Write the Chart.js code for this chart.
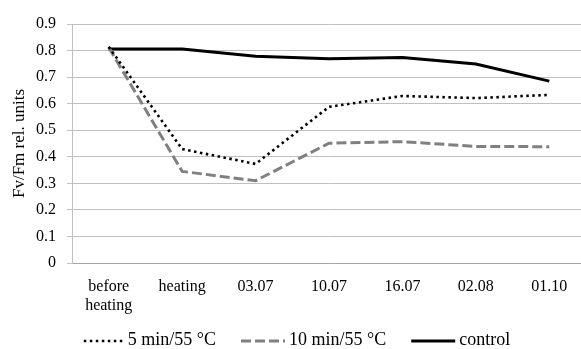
<!DOCTYPE html>
<html>
<head>
<meta charset="utf-8">
<script src="https://cdn.jsdelivr.net/npm/chart.js@4"></script>
<style>
  html, body { margin: 0; padding: 0; background: #fff; overflow: hidden; }
  #wrap { width: 586px; height: 349px; }
</style>
</head>
<body>
<div id="wrap"><canvas id="chart" width="586" height="349"></canvas></div>
<script>
const labels = [["before", "heating"], "heating", "03.07", "10.07", "16.07", "02.08", "01.10"];
const fiveMin = [0.814, 0.429, 0.373, 0.588, 0.629, 0.621, 0.633];
const tenMin = [0.812, 0.345, 0.310, 0.451, 0.457, 0.439, 0.438];
const control = [0.806, 0.806, 0.779, 0.769, 0.774, 0.749, 0.685];
const seriesNames = ["5 min/55 °C", "10 min/55 °C", "control"];
const yTicks = [0, 0.1, 0.2, 0.3, 0.4, 0.5, 0.6, 0.7, 0.8, 0.9];

const FONT = "'Liberation Serif', 'Times New Roman', serif";

const styles = [
  { color: "#000000", width: 2.6, dash: [2.5, 3.5], cap: "butt" },
  { color: "#808080", width: 3, dash: [10, 4], cap: "butt" },
  { color: "#000000", width: 3, dash: [], cap: "butt" }
];
const values = [fiveMin, tenMin, control];

// legend drawn by hand so it can sit right under the tick labels like the original
const bottomLegend = {
  id: "bottomLegend",
  afterDraw(chart) {
    const ctx = chart.ctx;
    const syms = [40, 44, 44], gap = 4, spacing = 25, y = 341, center = 297;
    ctx.save();
    ctx.font = "18px " + FONT;
    const widths = chart.data.datasets.map((ds) => ctx.measureText(ds.label).width);
    const total = widths.reduce((a, w, i) => a + syms[i] + gap + w, 0) + spacing * (widths.length - 1);
    let x = center - total / 2;
    chart.data.datasets.forEach((ds, i) => {
      ctx.strokeStyle = ds.borderColor;
      ctx.lineWidth = ds.borderWidth;
      ctx.setLineDash(ds.borderDash);
      ctx.beginPath();
      ctx.moveTo(x, y);
      ctx.lineTo(x + syms[i], y);
      ctx.stroke();
      ctx.setLineDash([]);
      ctx.fillStyle = "#000";
      ctx.textBaseline = "middle";
      ctx.fillText(ds.label, x + syms[i] + gap, y - 1);
      x += syms[i] + gap + widths[i] + spacing;
    });
    ctx.restore();
  }
};

new Chart(document.getElementById("chart"), {
  type: "line",
  data: {
    labels,
    datasets: values.map((v, i) => ({
      label: seriesNames[i],
      data: v,
      borderColor: styles[i].color,
      borderWidth: styles[i].width,
      borderDash: styles[i].dash,
      borderCapStyle: styles[i].cap,
      pointRadius: 0,
      fill: false,
      tension: 0
    }))
  },
  options: {
    responsive: false,
    animation: false,
    layout: { padding: { top: 24, right: 0, left: 0, bottom: 26 } },
    plugins: {
      tooltip: { enabled: false },
      legend: { display: false }
    },
    scales: {
      x: {
        offset: true,
        grid: { display: false, drawOnChartArea: false, offset: true, tickLength: 6, color: "#bfbfbf" },
        border: { display: true, color: "#a6a6a6" },
        ticks: { font: { family: FONT, size: 16 }, color: "#000", padding: 8, maxRotation: 0, autoSkip: false },
        afterFit: (s) => { s.height = 60; }
      },
      y: {
        min: 0,
        max: 0.9,
        afterBuildTicks: (s) => { s.ticks = yTicks.map((v) => ({ value: v })); },
        grid: { color: "#bfbfbf", tickLength: 5 },
        border: { display: true, color: "#bfbfbf" },
        ticks: {
          font: { family: FONT, size: 16 },
          color: "#000",
          padding: 11,
          callback: (v) => (v === 0 ? "0" : v.toFixed(1))
        },
        title: {
          display: true,
          text: "Fv/Fm rel. units",
          font: { family: FONT, size: 17 },
          color: "#000",
          padding: { top: 9, bottom: 0 }
        },
        afterFit: (s) => { s.width = 72; }
      }
    }
  },
  plugins: [bottomLegend]
});
</script>
</body>
</html>
